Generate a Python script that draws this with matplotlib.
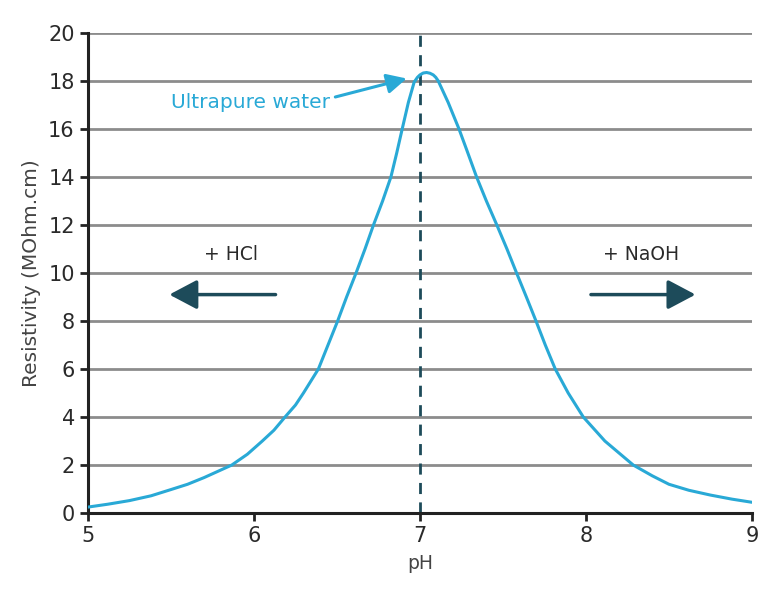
import matplotlib.pyplot as plt

# pH vs resistivity
ph = [5.0, 5.12, 5.25, 5.38, 5.5, 5.6, 5.7, 5.866, 5.96, 6.05, 6.12, 6.187, 6.25, 6.298,
      6.388, 6.446, 6.504, 6.558, 6.615, 6.669, 6.72, 6.775, 6.825, 6.86, 6.893, 6.93,
      6.965, 6.985, 7.0, 7.02, 7.04, 7.06, 7.08, 7.095, 7.11, 7.17, 7.235, 7.283, 7.341,
      7.40, 7.463, 7.524, 7.582, 7.641, 7.699, 7.755, 7.815, 7.893, 7.984, 8.114, 8.285,
      8.4, 8.5, 8.62, 8.75, 8.88, 9.0]
resistivity = [0.25, 0.37, 0.52, 0.72, 0.98, 1.2, 1.48, 2.0, 2.45, 3.0, 3.45, 4.0, 4.5, 5.0,
               6.0, 7.0, 8.0, 9.0, 10.0, 11.0, 12.0, 13.0, 14.0, 15.0, 16.0, 17.1,
               17.95, 18.15, 18.25, 18.33, 18.35, 18.32, 18.25, 18.15, 18.0, 17.1, 16.0, 15.1, 14.0,
               13.0, 12.0, 11.0, 10.0, 9.0, 8.0, 7.0, 6.0, 5.0, 4.0, 3.0, 2.0,
               1.55, 1.2, 0.95, 0.75, 0.58, 0.45]

x_ticks = [5, 6, 7, 8, 9]
y_ticks = list(range(0, 21, 2))

curve_color = '#29a9d6'
dark = '#1d4b5a'
text_color = '#2a2a2a'

plt.rcParams['font.family'] = ['DejaVu Sans']
fig = plt.figure(figsize=(7.67, 5.98), dpi=100)
ax = fig.add_axes([0.1147, 0.142, 0.8657, 0.803])

for y in y_ticks[1:]:
    ax.axhline(y, color='#8c8c8c', lw=2, zorder=1)
ax.axvline(7, color=dark, lw=2, ls=(0, (4, 3)), zorder=2)
ax.plot(ph, resistivity, color=curve_color, lw=2.2, zorder=3,
        solid_joinstyle='round', solid_capstyle='round')

ax.set_xlim(5, 9)
ax.set_ylim(0, 20)
ax.set_xticks(x_ticks)
ax.set_yticks(y_ticks)
ax.tick_params(axis='both', labelsize=15, direction='out', length=6, width=2, color='#222222',
               labelcolor=text_color)
ax.tick_params(axis='x', pad=3)
for side in ['top', 'right']:
    ax.spines[side].set_visible(False)
for side in ['left', 'bottom']:
    ax.spines[side].set_linewidth(2.2)
    ax.spines[side].set_color('#222222')
ax.spines['bottom'].set_zorder(5)

ax.set_xlabel('pH', fontsize=13.5, color='#444444', labelpad=6)
ax.set_ylabel('Resistivity (MOhm.cm)', fontsize=14.5, color='#444444', labelpad=5)

# annotations
ax.annotate('', xy=(6.92, 18.1), xytext=(6.49, 17.33),
            arrowprops=dict(arrowstyle='-|>,head_length=0.6,head_width=0.3', mutation_scale=20,
                            color=curve_color, lw=2.2, shrinkA=0, shrinkB=0))
ax.text(5.98, 17.1, 'Ultrapure water', color=curve_color, fontsize=14.5, ha='center', va='center')

ax.annotate('', xy=(5.49, 9.1), xytext=(6.13, 9.1),
            arrowprops=dict(arrowstyle='-|>,head_length=0.85,head_width=0.45', mutation_scale=20,
                            color=dark, lw=2.5, shrinkA=0, shrinkB=0))
ax.annotate('', xy=(8.66, 9.1), xytext=(8.03, 9.1),
            arrowprops=dict(arrowstyle='-|>,head_length=0.85,head_width=0.45', mutation_scale=20,
                            color=dark, lw=2.5, shrinkA=0, shrinkB=0))
ax.text(5.86, 10.75, '+ HCl', color=text_color, fontsize=13.5, ha='center', va='center')
ax.text(8.33, 10.75, '+ NaOH', color=text_color, fontsize=13.5, ha='center', va='center')

fig.savefig('out.png', dpi=100)
